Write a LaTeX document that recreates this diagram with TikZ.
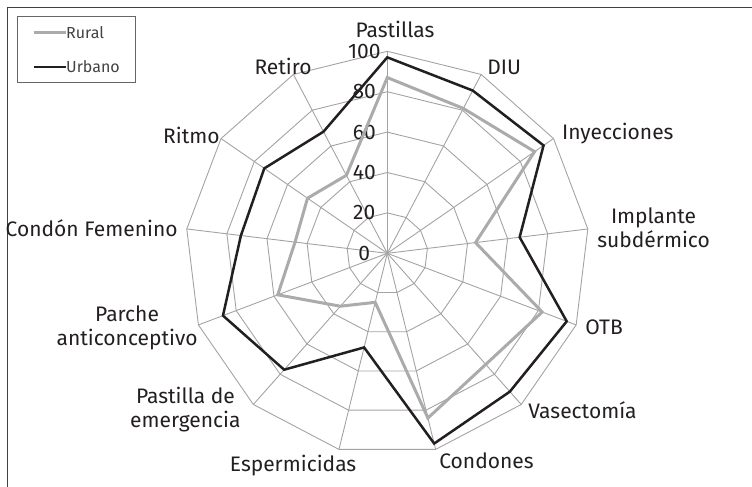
\documentclass[tikz,border=0pt]{standalone}
\usepackage{fontspec}
\setmainfont{Fira Sans}

\definecolor{inkblack}{HTML}{231F20}
\definecolor{gridgray}{HTML}{A3A3A3}
\definecolor{ruralgray}{HTML}{ABABAB}
\definecolor{framegray}{HTML}{404040}

\tikzset{
    gridline/.style={draw=gridgray, line width=0.45pt},
    rural/.style={draw=ruralgray, line width=1.5pt},
    urbano/.style={draw=inkblack, line width=1.25pt},
    catlabel/.style={inner sep=0pt, text=inkblack, font=\fontsize{10.5}{12}\selectfont, align=center},
    ticklabel/.style={inner sep=0pt, text=inkblack, font=\fontsize{10.5}{12}\selectfont},
    legendtext/.style={inner sep=0pt, anchor=west, text=inkblack!85, font=\fontsize{8}{9}\selectfont}
}

\begin{document}
\begin{tikzpicture}[x=0.5pt,y=0.5pt]
    \useasboundingbox (-387.3,-233.7) rectangle (364.7,253.3);
    % frame
    \draw[framegray, line width=0.7pt] (-379.8,-233.7) -- (-379.8,245.8) -- (364.7,245.8);
    % rings and spokes
    \foreach \r in {20,40,...,100} {
        \draw[gridline] (90:{2.02*\r}) \foreach \k in {1,...,12} { -- ({90-\k*360/13}:{2.02*\r}) } -- cycle;
    }
    \foreach \k in {0,...,12} {
        \draw[gridline] (0,0) -- ({90-\k*360/13}:202);
    }
    % scale
    \foreach \r in {0,20,...,100} {
        \node[ticklabel] (t\r) at (-23,{2.02*\r}) {\r};
    }
    % series
    \draw[rural] (90:{2.02*87}) \foreach \v [count=\k] in {81,88.6,44,82,73.5,84,25,35,58,46,48,43.6} { -- ({90-\k*360/13}:{2.02*\v}) } -- cycle;
    \draw[urbano] (90:{2.02*97}) \foreach \v [count=\k] in {91,94,66,95,91.5,97,48,77,87,73,74,68} { -- ({90-\k*360/13}:{2.02*\v}) } -- cycle;
    % categories
    \node[catlabel] (pastillas) at (7.7,224.3) {Pastillas};
    \node[catlabel, anchor=west] (diu) at (99.7,186.3) {DIU};
    \node[catlabel, anchor=west] (inyecciones) at (174.4,119.3) {Inyecciones};
    \node[catlabel, anchor=west] (implante) at (209.7,25.3) {Implante\\subdérmico};
    \node[catlabel, anchor=west] (otb) at (197.7,-73.7) {OTB};
    \node[catlabel, anchor=west] (vasectomia) at (140.7,-156.7) {Vasectomía};
    \node[catlabel, anchor=west] (condones) at (51.7,-207.7) {Condones};
    \node[catlabel, anchor=east] (espermicidas) at (-30.6,-212.7) {Espermicidas};
    \node[catlabel, anchor=east] (emergencia) at (-146.3,-156.7) {Pastilla de\\emergencia};
    \node[catlabel, anchor=east] (parche) at (-189.3,-74.7) {Parche\\anticonceptivo};
    \node[catlabel, anchor=east] (femenino) at (-209.3,25.3) {Condón Femenino};
    \node[catlabel, anchor=east] (ritmo) at (-167.3,118.3) {Ritmo};
    \node[catlabel, anchor=east] (retiro) at (-75.3,187.3) {Retiro};
    % legend
    \draw[framegray!80, line width=0.5pt] (-369.3,170.3) rectangle (-251.3,236.3);
    \coordinate (rs) at (-353.3,220.3);
    \coordinate (us) at (-353.3,186.3);
    \node[legendtext] (rl) at (-321.5,220.3) {Rural};
    \node[legendtext] (ul) at (-321.5,186.3) {Urbano};
    \draw[rural] (rs) -- (rl.west);
    \draw[urbano] (us) -- (ul.west);
\end{tikzpicture}
\end{document}
